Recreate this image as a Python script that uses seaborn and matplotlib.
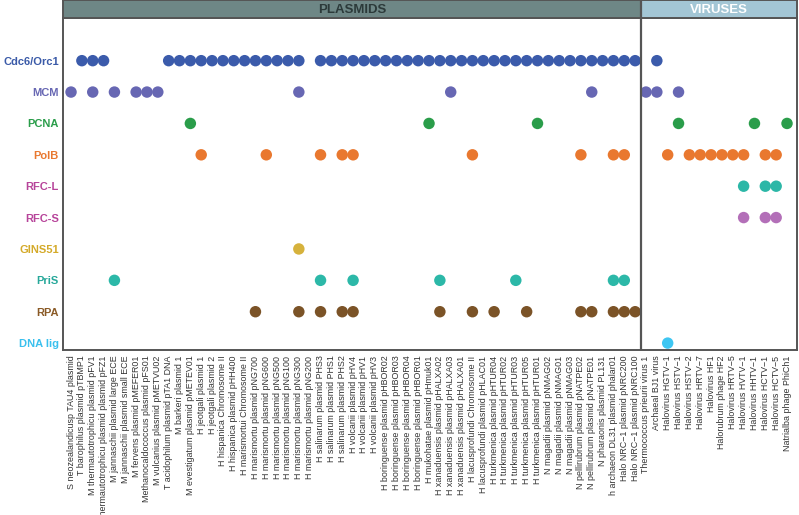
import seaborn as sns
import matplotlib.pyplot as plt
import pandas as pd
from matplotlib.patches import Rectangle

sns.set_style('white')
plt.rcParams['font.family'] = ['Liberation Sans', 'DejaVu Sans']

# genomes (columns), left to right
plasmids = [
    'S neozealandicusp TAU4 plasmid', 'T barophilus plasmid pTBMP1',
    'M thermautotrophicu plasmid pFV1', 'M thermautotrophicu plasmid plasmid pFZ1',
    'M jannaschii plasmid large ECE', 'M jannaschii plasmid small ECE',
    'M fervens plasmid pMEFER01', 'Methanocaldococcus plasmid pFS01',
    'M vulcanius plasmid pMETVU02', 'T acidophilum plasmid pTA1 DNA',
    'M barkeri plasmid 1', 'M evestigatum plasmid pMETEV01',
    'H jeotgali plasmid 1', 'H jeotgali plasmid 2',
    'H hispanica Chromosome II', 'H hispanica plasmid pHH400',
    'H marismortui Chromosome II', 'H marismortu plasmid pNG700',
    'H marismortu plasmid pNG600', 'H marismortu plasmid pNG500',
    'H marismortu plasmid pNG100', 'H marismortu plasmid pNG300',
    'H marismortu plasmid pNG200', 'H salinarum plasmid PHS3',
    'H salinarum plasmid PHS1', 'H salinarum plasmid PHS2',
    'H volcanii plasmid pHV4', 'H volcanii plasmid pHV1', 'H volcanii plasmid pHV3',
    'H boringuense plasmid pHBOR02', 'H boringuense plasmid pHBOR03',
    'H boringuense plasmid pHBOR04', 'H boringuense plasmid pHBOR01',
    'H mukohatae plasmid pHmuk01', 'H xanaduensis plasmid pHALXA02',
    'H xanaduensis plasmid pHALXA03', 'H xanaduensis plasmid pHALXA01',
    'H lacusprofundi Chromosome II', 'H lacusprofundi plasmid pHLAC01',
    'H turkmenica plasmid pHTUR04', 'H turkmenica plasmid pHTUR02',
    'H turkmenica plasmid pHTUR03', 'H turkmenica plasmid pHTUR05',
    'H turkmenica plasmid pHTUR01', 'N magadii plasmid pNMAG02',
    'N magadii plasmid pNMAG01', 'N magadii plasmid pNMAG03',
    'N pellirubrum plasmid pNATPE02', 'N pellirubrum plasmid pNATPE01',
    'N pharaonis plasmid PL131', 'h archaeon DL31 plasmid phalar01',
    'Halo NRC\u22121 plasmid pNRC200', 'Halo NRC\u22121 plasmid pNRC100',
]
viruses = [
    'Thermococcus prieurii virus 1', 'Archaeal BJ1 virus',
    'Halovirus HGTV\u22121', 'Halovirus HSTV\u22121', 'Halovirus HSTV\u22122',
    'Halovirus HRTV\u22127', 'Halovirus HF1', 'Halorubrum phage HF2',
    'Halovirus HRTV\u22125', 'Halovirus HVTV\u22121', 'Halovirus HHTV\u22121',
    'Halovirus HCTV\u22121', 'Halovirus HCTV\u22125', 'Natrialba phage PhiCh1',
]
genomes = plasmids + viruses

proteins = ['Cdc6/Orc1', 'MCM', 'PCNA', 'PolB', 'RFC-L', 'RFC-S',
            'GINS51', 'PriS', 'RPA', 'DNA lig']

# column indices (into genomes) where each protein is found
cdc6 = [1, 2, 3, 9, 10, 11, 12, 13, 14, 15, 16, 17, 18, 19, 20, 21,
        23, 24, 25, 26, 27, 28, 29, 30, 31, 32, 33, 34, 35, 36, 37, 38,
        39, 40, 41, 42, 43, 44, 45, 46, 47, 48, 49, 50, 51, 52, 54]
mcm = [0, 2, 4, 6, 7, 8, 21, 35, 48, 53, 54, 56]
pcna = [11, 33, 43, 56, 63, 66]
polb = [12, 18, 23, 25, 26, 37, 47, 50, 51, 55, 57, 58, 59, 60, 61, 62, 64, 65]
rfc_l = [62, 64, 65]
rfc_s = [62, 64, 65]
gins51 = [21]
pris = [4, 23, 26, 34, 41, 50, 51]
rpa = [17, 21, 23, 25, 26, 34, 37, 39, 42, 47, 48, 50, 51, 52]
dna_lig = [55]

hits = {'Cdc6/Orc1': cdc6, 'MCM': mcm, 'PCNA': pcna, 'PolB': polb,
        'RFC-L': rfc_l, 'RFC-S': rfc_s, 'GINS51': gins51, 'PriS': pris,
        'RPA': rpa, 'DNA lig': dna_lig}

dot_colors = {'Cdc6/Orc1': '#3b5bab', 'MCM': '#6767b3', 'PCNA': '#2a9d4a',
              'PolB': '#e9782f', 'RFC-L': '#2cb7a7', 'RFC-S': '#b36fb8',
              'GINS51': '#d6b23c', 'PriS': '#2cb8a8', 'RPA': '#7b5327',
              'DNA lig': '#3ec6f2'}
label_colors = {'Cdc6/Orc1': '#3a5aa8', 'MCM': '#6767b3', 'PCNA': '#2a9d4a',
                'PolB': '#e9782f', 'RFC-L': '#b7449a', 'RFC-S': '#b7449a',
                'GINS51': '#d4aa2a', 'PriS': '#27a89a', 'RPA': '#8a5a26',
                'DNA lig': '#3ac0ee'}

rows = [(genomes[i], p) for p in proteins for i in hits[p]]
df = pd.DataFrame(rows, columns=['genome', 'protein'])
df['x'] = df['genome'].map({g: i for i, g in enumerate(genomes)})
df['y'] = df['protein'].map({p: i for i, p in enumerate(proteins)})

W, H = 799, 515
fig = plt.figure(figsize=(W / 100, H / 100), dpi=100)
ax = fig.add_axes([63 / W, 1 - 350 / H, 734 / W, 332 / H])

sns.scatterplot(data=df, x='x', y='y', hue='protein', palette=dot_colors,
                s=68, edgecolor='none', linewidth=0, legend=False, ax=ax)

n_plas = len(plasmids)
xl = (-0.74, len(genomes) - 0.08)
ax.set_xlim(*xl)
ax.set_ylim(9.22, -1.36)
ax.axvline(n_plas - 0.5, color='#555555', lw=1.6)

ax.set_xticks(range(len(genomes)))
ax.set_xticklabels(genomes, rotation=90, fontsize=6.4, color='#333333',
                   va='top', ha='center')
ax.set_yticks(range(len(proteins)))
ax.set_yticklabels(proteins, fontsize=8, fontweight='bold')
for t, p in zip(ax.get_yticklabels(), proteins):
    t.set_color(label_colors[p])
ax.tick_params(axis='both', length=0)
ax.tick_params(axis='x', pad=4)
ax.tick_params(axis='y', pad=3)
ax.set_xlabel('')
ax.set_ylabel('')
for s in ax.spines.values():
    s.set_color('#555555')
    s.set_linewidth(1.4)

# header band
hx = fig.add_axes([63 / W, 1 - 18 / H, 734 / W, 18 / H])
hx.set_xlim(*xl)
hx.set_ylim(0, 1)
hx.add_patch(Rectangle((xl[0], 0), n_plas - 0.5 - xl[0], 1,
                       facecolor='#6e8786', edgecolor='none'))
hx.add_patch(Rectangle((n_plas - 0.5, 0), xl[1] - (n_plas - 0.5), 1,
                       facecolor='#a3c6d5', edgecolor='none'))
hx.axvline(n_plas - 0.5, color='#555555', lw=1.6)
hx.text((xl[0] + n_plas - 0.5) / 2, 0.45, 'PLASMIDS', ha='center', va='center',
        fontsize=9.5, fontweight='bold', color='#2c3a3a')
hx.text((n_plas - 0.5 + xl[1]) / 2, 0.45, 'VIRUSES', ha='center', va='center',
        fontsize=9.5, fontweight='bold', color='white')
hx.set_xticks([])
hx.set_yticks([])
for s in hx.spines.values():
    s.set_color('#555555')
    s.set_linewidth(1.4)

fig.savefig('out.png', dpi=100)
